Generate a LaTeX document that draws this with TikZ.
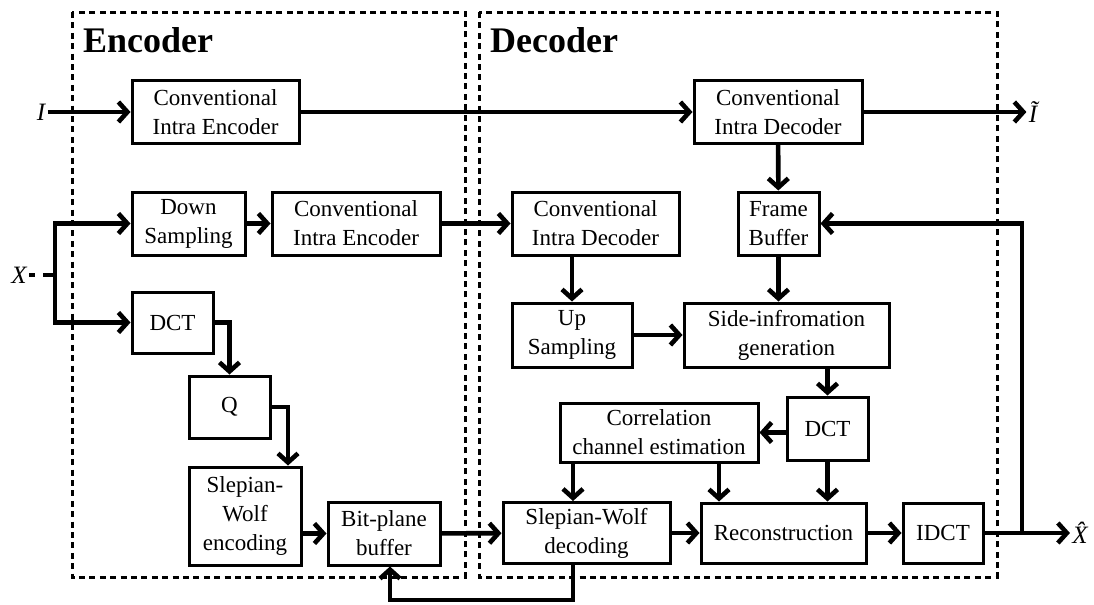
\documentclass[tikz,border=0pt]{standalone}
\usepackage{fontspec}
\setmainfont{Liberation Serif}
\usetikzlibrary{arrows.meta}

\begin{document}
\begin{tikzpicture}[x=0.5pt, y=-0.5pt,
  blk/.style={draw, line width=1.5pt, align=center, inner sep=1pt,
    font=\fontsize{11.5}{14.5}\selectfont},
  flow/.style={line width=2.3pt, -{Straight Barb[length=4.5pt,width=10pt]}},
  wire/.style={line width=2.3pt},
  frame/.style={line width=1.5pt, dash pattern=on 3pt off 2.2pt},
  title/.style={font=\fontsize{18}{20}\selectfont\bfseries, anchor=west},
  sig/.style={font=\fontsize{12.5}{14}\selectfont\itshape, inner sep=1pt}]
\useasboundingbox (0,0) rectangle (1094,605);

% encoder / decoder frames
\draw[frame] (72,12) rectangle (465,577);
\draw[frame] (479,12) rectangle (997,577);
\node[title] (encT) at (76,40) {Encoder};
\node[title] (decT) at (483,40) {Decoder};

% encoder blocks
\node[blk, minimum width=83.5pt, minimum height=31.5pt] (cieI) at (215.5,112) {Conventional\\Intra Encoder};
\node[blk, minimum width=56.5pt, minimum height=31.5pt] (ds) at (188.5,223.5) {Down\\Sampling};
\node[blk, minimum width=84pt, minimum height=31.5pt] (cie) at (356,223.5) {Conventional\\Intra Encoder};
\node[blk, minimum width=40.5pt, minimum height=30.5pt] (dcte) at (172.5,322.5) {DCT};
\node[blk, minimum width=40.5pt, minimum height=31pt] (q) at (229.5,407) {Q};
\node[blk, minimum width=56pt, minimum height=49pt] (swe) at (245,516) {Slepian-\\Wolf\\encoding};
\node[blk, minimum width=56pt, minimum height=31.5pt] (bpb) at (384,533.5) {Bit-plane\\buffer};

% decoder blocks
\node[blk, minimum width=84pt, minimum height=31.5pt] (cidI) at (778,112) {Conventional\\Intra Decoder};
\node[blk, minimum width=83.5pt, minimum height=31.5pt] (cid) at (595.5,223.5) {Conventional\\Intra Decoder};
\node[blk, minimum width=40.5pt, minimum height=31.5pt] (fb) at (778.5,223.5) {Frame\\Buffer};
\node[blk, minimum width=60pt, minimum height=32pt] (us) at (572,335) {Up\\Sampling};
\node[blk, minimum width=102.5pt, minimum height=32pt] (sig) at (786.5,335) {Side-infromation\\generation};
\node[blk, minimum width=40.5pt, minimum height=31.5pt] (dctd) at (827.5,428.5) {DCT};
\node[blk, minimum width=99pt, minimum height=29.5pt] (cce) at (659,432.5) {Correlation\\channel estimation};
\node[blk, minimum width=83.5pt, minimum height=30.5pt] (swd) at (586.5,533) {Slepian-Wolf\\decoding};
\node[blk, minimum width=82.5pt, minimum height=30pt] (rec) at (783.5,533) {Reconstruction};
\node[blk, minimum width=40pt, minimum height=30pt] (idct) at (943,533) {IDCT};

% inputs and outputs
\node[sig] (lI) at (41,112) {I};
\node[sig] (lIt) at (1033,112) {Ĩ};
\node[sig] (lX) at (19,275) {X};
\node[sig] (lXh) at (1080,533) {X̂};
\coordinate (xb) at (55,275);
\coordinate (fbk) at (1022,533);
\coordinate (lowrt) at (573,600);

% connectors
\draw[flow] (lI) -- (cieI);
\draw[flow] (cieI) -- (cidI);
\draw[flow] (cidI) -- (lIt);
\draw[flow] (cidI) -- (fb);
\draw[wire, dash pattern=on 3pt off 4pt on 8pt] (lX) -- (xb);
\draw[flow] (xb) |- (ds);
\draw[flow] (xb) |- (dcte);
\draw[flow] (ds) -- (cie);
\draw[flow] (cie) -- (cid);
\draw[flow] (dcte) -| (q);
\draw[flow] (q) -| ([xshift=21.5pt]swe.north);
\draw[flow] (swe.east |- bpb) -- (bpb);
\draw[flow] (bpb) -- (swd);
\draw[flow] (us.north |- cid.south) -- (us);
\draw[flow] (fb) -- (fb |- sig.north);
\draw[flow] (us) -- (sig);
\draw[flow] (sig.south -| dctd) -- (dctd);
\draw[flow] (dctd.west |- cce) -- (cce);
\draw[flow] ([xshift=-43pt]cce.south) -- ([xshift=-43pt]cce.south |- swd.north);
\draw[flow] ([xshift=30pt]cce.south) -- ([xshift=30pt]cce.south |- rec.north);
\draw[flow] (dctd) -- (dctd |- rec.north);
\draw[flow] (swd) -- (rec);
\draw[flow] (rec) -- (idct);
\draw[flow] (idct) -- (lXh);
\draw[flow] (fbk) |- (fb);
\draw[flow] (lowrt |- swd.south) -- (lowrt) -| ([xshift=3pt]bpb.south);
\end{tikzpicture}
\end{document}
